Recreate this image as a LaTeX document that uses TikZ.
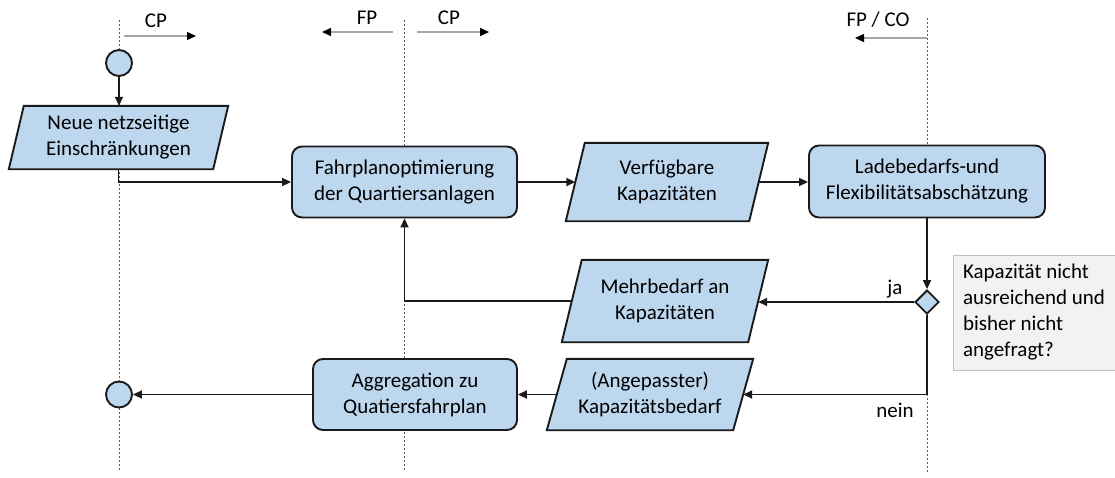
\documentclass[tikz,border=0pt]{standalone}
\usepackage{fontspec}
\setmainfont{Carlito}
\usetikzlibrary{arrows.meta,shapes.geometric,backgrounds}

\definecolor{boxfill}{HTML}{BDD7EE}
\definecolor{boxline}{HTML}{1A1A1A}
\definecolor{notefill}{HTML}{F2F2F2}
\definecolor{noteline}{HTML}{BFBFBF}
\definecolor{laneline}{HTML}{595959}
\definecolor{dirline}{HTML}{A6A6A6}

% outline of a data (parallelogram) node: #1 node name, #2 half of the slant
\newcommand\dataframe[2]{%
  \draw[dataline] ([xshift=#2pt]#1.north west) -- ([xshift=#2pt]#1.north east)
    -- ([xshift=-#2pt]#1.south east) -- ([xshift=-#2pt]#1.south west) -- cycle;}

\begin{document}
\begin{tikzpicture}[x=1pt,y=-1pt,
  txt/.style={font=\fontsize{21}{26}\selectfont, text=black},
  procbox/.style 2 args={txt, draw=boxline, fill=boxfill, line width=1.9pt,
    rounded corners=10pt, align=center, inner sep=0pt,
    minimum width=#1, minimum height=#2},
  databox/.style 2 args={txt, align=center, inner sep=0pt,
    minimum width=#1, minimum height=#2},
  dataline/.style={draw=boxline, fill=boxfill, line width=1.9pt, line join=miter},
  terminal/.style={circle, draw=boxline, fill=boxfill, line width=1.9pt,
    minimum size=26pt, inner sep=0pt},
  decision/.style={diamond, draw=boxline, fill=boxfill, line width=1.9pt,
    minimum size=24pt, inner sep=0pt},
  notebox/.style={txt, draw=noteline, fill=notefill, line width=0.8pt,
    align=left, inner sep=0pt, minimum width=162pt, minimum height=115pt},
  flow/.style={draw=boxline, line width=1.8pt,
    -{Triangle[length=9pt,width=8pt]}},
  lane/.style={draw=laneline, line width=0.7pt, dash pattern=on 2pt off 2pt},
  dirarrow/.style={draw=dirline, line width=1.4pt,
    -{Triangle[length=9pt,width=8pt,color=black]}},
  lbl/.style={txt, inner sep=0pt},
]
\useasboundingbox (0,0) rectangle (1115,477);

% swim-lane separators
\coordinate (laneA top) at (119,20);  \coordinate (laneA bot) at (119,472);
\coordinate (laneB top) at (404,20);  \coordinate (laneB bot) at (404,472);
\coordinate (laneC top) at (927,18);  \coordinate (laneC bot) at (927,472);
\begin{scope}[on background layer]
  \draw[lane] (laneA top) -- (laneA bot);
  \draw[lane] (laneB top) -- (laneB bot);
  \draw[lane] (laneC top) -- (laneC bot);
\end{scope}

% direction markers above the lanes
\coordinate (cp1 a) at (124,36);  \coordinate (cp1 b) at (196,36);
\coordinate (fp a)  at (393,32);  \coordinate (fp b)  at (322,32);
\coordinate (cp2 a) at (417,32);  \coordinate (cp2 b) at (489,32);
\coordinate (fpco a) at (927,38); \coordinate (fpco b) at (855,38);
\draw[dirarrow] (cp1 a) -- (cp1 b);
\draw[dirarrow] (fp a) -- (fp b);
\draw[dirarrow] (cp2 a) -- (cp2 b);
\draw[dirarrow] (fpco a) -- (fpco b);
\node[lbl] (cp1 lbl)  at (156,21) {CP};
\node[lbl] (fp lbl)   at (367,18) {FP};
\node[lbl] (cp2 lbl)  at (449,18) {CP};
\node[lbl] (fpco lbl) at (878,20) {FP / CO};

% flow nodes
\node[terminal] (start) at (119,63) {};
\node[databox={204pt}{63pt}] (neue) at (118.5,137.5) {Neue netzseitige\\Einschränkungen};
\node[procbox={225pt}{71pt}] (fahr) at (404.5,182) {Fahrplanoptimierung\\der Quartiersanlagen};
\node[databox={183pt}{78pt}] (verf) at (667,182) {Verfügbare\\Kapazitäten};
\node[procbox={236pt}{72pt}] (lade) at (927,181.5) {Ladebedarfs-und\\Flexibilitätsabschätzung};
\node[decision] (dec) at (927,302) {};
\node[databox={186pt}{82pt}] (mehr) at (665,301) {Mehrbedarf an\\Kapazitäten};
\node[databox={186pt}{71pt}] (anpa) at (650,394.5) {(Angepasster)\\Kapazitätsbedarf};
\node[procbox={204pt}{71pt}] (aggr) at (415,394.5) {Aggregation zu\\Quatiersfahrplan};
\node[terminal] (end) at (119,394.5) {};
\node[notebox] (note) at (1034,312.5) {Kapazität nicht\\ausreichend und\\bisher nicht\\angefragt?};

\begin{scope}[on background layer]
  \dataframe{neue}{7.5}
  \dataframe{verf}{9.5}
  \dataframe{mehr}{10}
  \dataframe{anpa}{10}
\end{scope}

% connectors
\draw[flow] (start.south) -- (start.south |- neue.north);
\draw[flow] (neue.south) |- (fahr.west);
\draw[flow] (fahr.east) -- (verf.west);
\draw[flow] (verf.east) -- (verf.east -| lade.west);
\draw[flow] (lade.south) -- (dec.north);
\draw[flow] (dec.west) -- (dec.west -| mehr.east);
\draw[flow] (mehr.west) -| (fahr.south);
\draw[flow] (dec.south) |- (anpa.east);
\draw[flow] (anpa.west) -- (aggr.east);
\draw[flow] (aggr.west) -- (end.east);

% branch labels
\node[lbl] (ja)   at (895,289) {ja};
\node[lbl] (nein) at (895,410) {nein};
\end{tikzpicture}
\end{document}
